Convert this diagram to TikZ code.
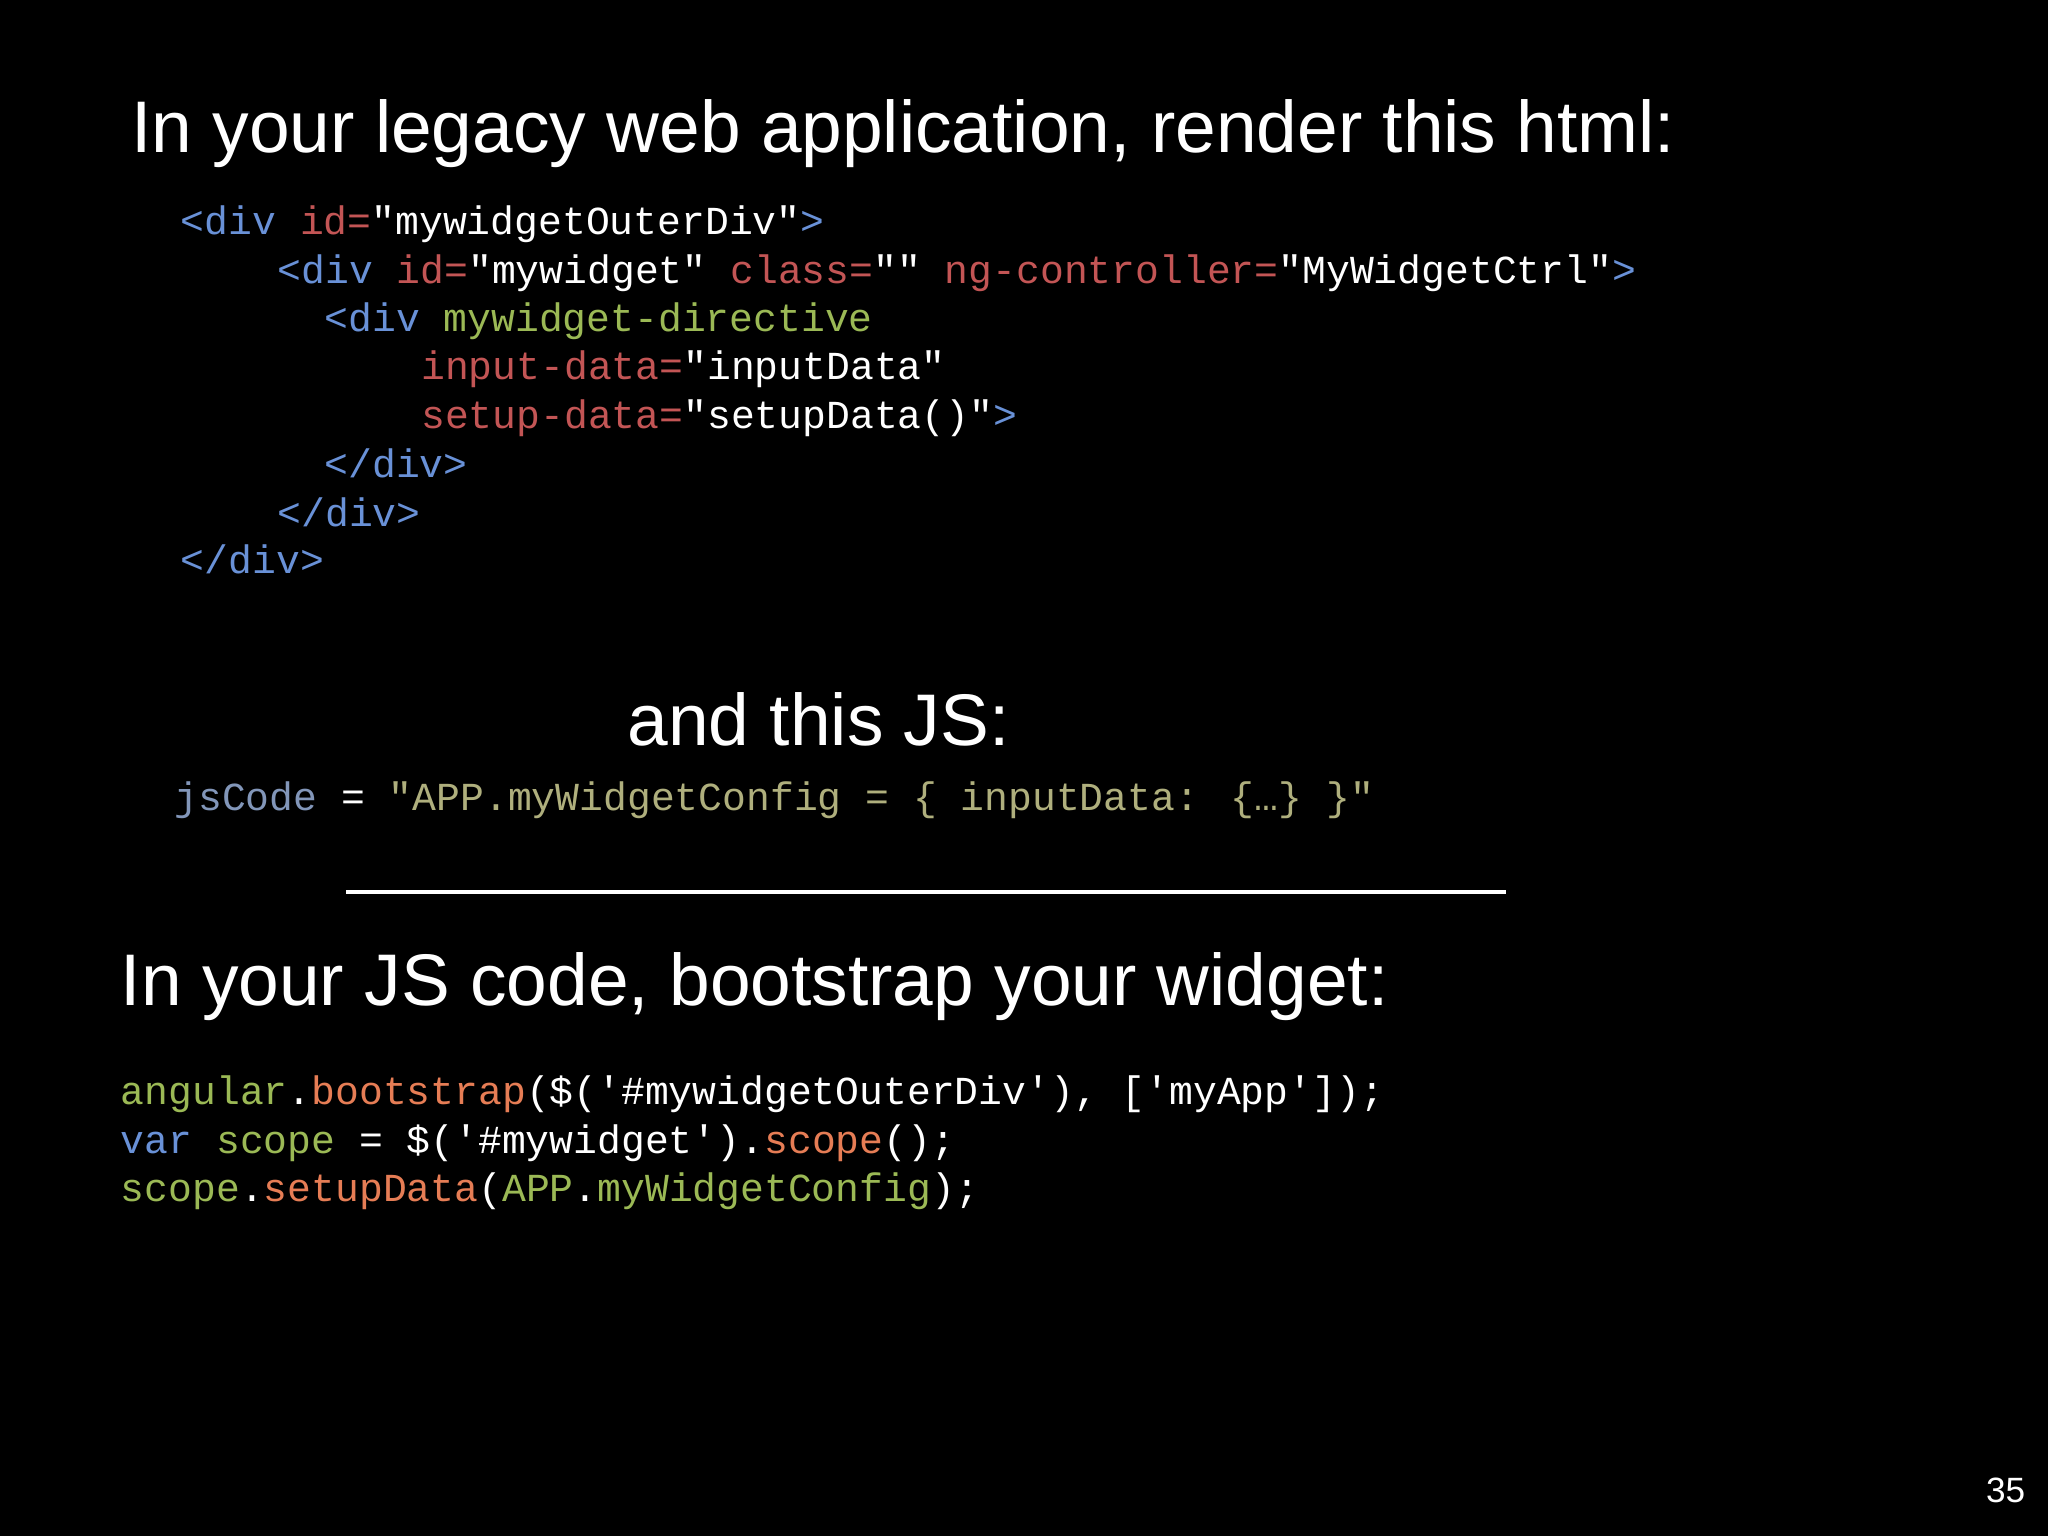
\documentclass[tikz,border=0pt]{standalone}
\usepackage{fontspec}
\setmainfont{Liberation Sans}
\newfontfamily\code{Liberation Mono}
\definecolor{tag}{RGB}{105,145,215}
\definecolor{attr}{RGB}{195,85,85}
\definecolor{grn}{RGB}{155,185,85}
\definecolor{olv}{RGB}{175,175,125}
\definecolor{org}{RGB}{230,125,85}
\definecolor{jsb}{RGB}{130,150,185}
\newcommand{\dq}{\symbol{34}}
\newcommand{\sq}{\symbol{39}}
\newcommand{\T}[1]{\textcolor{tag}{#1}}
\newcommand{\A}[1]{\textcolor{attr}{#1}}
\newcommand{\G}[1]{\textcolor{grn}{#1}}
\newcommand{\Og}[1]{\textcolor{org}{#1}}
\newcommand{\Ol}[1]{\textcolor{olv}{#1}}
\tikzset{
 head/.style={anchor=west,inner sep=0pt,text=white,font=\fontsize{20.8}{24}\selectfont},
 cl/.style={anchor=west,inner sep=0pt,text=white,font=\code\fontsize{11.3}{13}\selectfont},
}
\begin{document}
\begin{tikzpicture}[x=0.01306cm,y=-0.01306cm]
\fill[black] (0,0) rectangle (1568,1176);
\node[head] (t1) at (100,102) {In your legacy web application, render this html:};
\node[cl] (h1) at (138,172) {\T{<div} \A{id=}\dq mywidgetOuterDiv\dq\T{>}};
\node[cl] (h2) at (212,209) {\T{<div} \A{id=}\dq mywidget\dq\ \A{class=}\dq\dq\ \A{ng-controller=}\dq MyWidgetCtrl\dq\T{>}};
\node[cl] (h3) at (248,246) {\T{<div} \G{mywidget-directive}};
\node[cl] (h4) at (322,283) {\A{input-data=}\dq inputData\dq};
\node[cl] (h5) at (322,320) {\A{setup-data=}\dq setupData()\dq\T{>}};
\node[cl] (h6) at (248,355) {\T{</div>}};
\node[cl] (h7) at (212,392) {\T{</div>}};
\node[cl] (h8) at (138,428) {\T{</div>}};
\node[head] (t2) at (480,551) {and this JS:};
\node[cl] (js) at (133,613) {\textcolor{jsb}{jsCode} = \Ol{\dq APP.myWidgetConfig = \{ inputData: \{…\} \}\dq}};
\draw[white,line width=1.3pt] (265,683) coordinate (r1) -- (1153,683) coordinate (r2);
\node[head] (t3) at (92,755) {In your JS code, bootstrap your widget:};
\node[cl] (c1) at (92,838) {\G{angular}.\Og{bootstrap}(\$(\sq\#mywidgetOuterDiv\sq), [\sq myApp\sq]);};
\node[cl] (c2) at (92,875) {\T{var} \G{scope} = \$(\sq\#mywidget\sq).\Og{scope}();};
\node[cl] (c3) at (92,912) {\G{scope}.\Og{setupData}(\G{APP}.\G{myWidgetConfig});};
\node[anchor=east,inner sep=0pt,text=white,font=\fontsize{10}{12}\selectfont] (pn) at (1551,1141) {35};
\end{tikzpicture}
\end{document}
